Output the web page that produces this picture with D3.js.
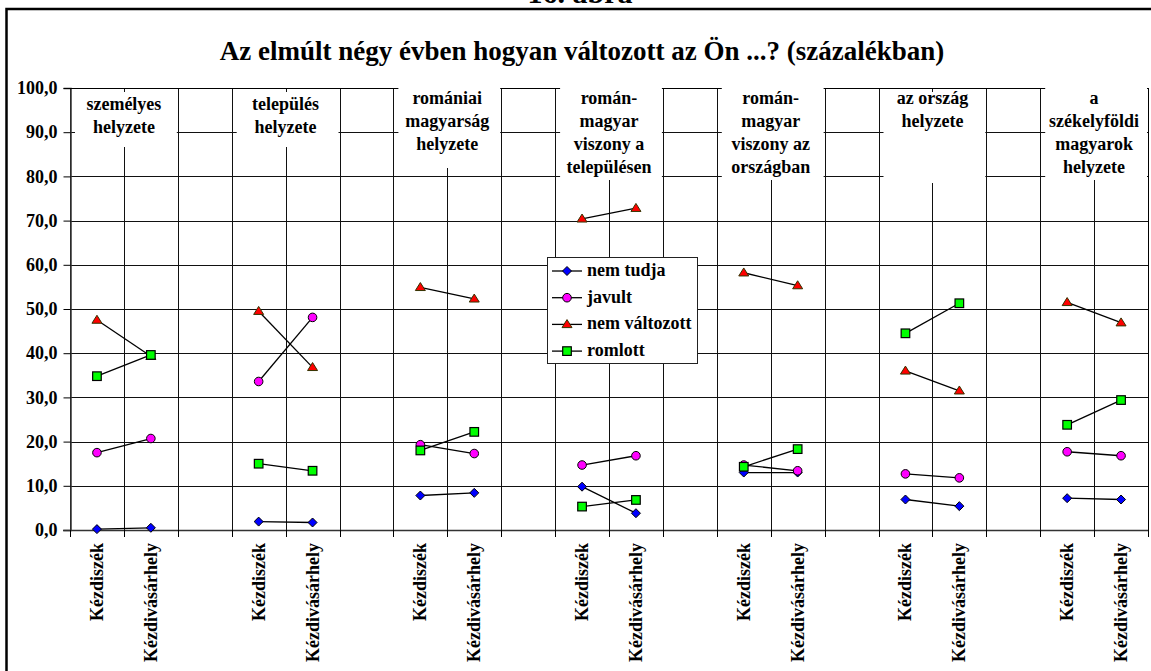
<!DOCTYPE html>
<html>
<head>
<meta charset="utf-8">
<script src="https://cdn.jsdelivr.net/npm/d3@7"></script>
<style>
  html, body { margin: 0; padding: 0; background: #fff; }
  svg { display: block; }
  text { font-family: "Liberation Serif", "Times New Roman", serif; font-weight: bold; fill: #000; }
</style>
</head>
<body>
<svg id="chart" width="1151" height="671"></svg>
<script>
// ---------- data ----------
const pageCaption = "16. ábra";
const title = "Az elmúlt négy évben hogyan változott az Ön ...? (százalékban)";
const groupLabels = [
  ["személyes", "helyzete"],
  ["település", "helyzete"],
  ["romániai", "magyarság", "helyzete"],
  ["román-", "magyar", "viszony a", "településen"],
  ["román-", "magyar", "viszony az", "országban"],
  ["az ország", "helyzete"],
  ["a", "székelyföldi", "magyarok", "helyzete"]
];
const sites = ["Kézdiszék", "Kézdivásárhely"];
const seriesNames = ["nem tudja", "javult", "nem változott", "romlott"];
// values per group: [Kézdiszék, Kézdivásárhely]
const nemTudja     = [0.2, 0.5,  1.9, 1.7,  7.8, 8.4,  9.8, 3.8,  13.0, 13.0,  6.9, 5.4,  7.2, 6.9];
const javult       = [17.5, 20.7, 33.6, 48.1, 19.3, 17.3, 14.7, 16.8, 14.7, 13.4, 12.7, 11.8, 17.7, 16.8];
const nemValtozott = [47.5, 39.3, 49.5, 36.8, 54.9, 52.3, 70.4, 72.8, 58.2, 55.3, 36.0, 31.5, 51.5, 46.9];
const romlott      = [34.8, 39.6, 15.0, 13.4, 18.0, 22.2, 5.3, 6.8, 14.3, 18.3, 44.5, 51.3, 23.8, 29.4];
const yTicks = [0, 10, 20, 30, 40, 50, 60, 70, 80, 90, 100];

// ---------- layout ----------
const plot = { left: 70, right: 1148, top: 88, bottom: 530 };
const slotsPerGroup = 3;
const nSlots = groupLabels.length * slotsPerGroup - 1; // 20
// label box [top, bottom, first baseline] per group
const boxLayout = [[92,147,110],[92,147,110],[85,168,104],[85,180,104],[85,180,104],[92,183,104],[85,180,104]];
const lineH = 23;

const svg = d3.select("#chart");
const x = d3.scaleLinear().domain([0, nSlots]).range([plot.left, plot.right]);
const y = d3.scaleLinear().domain([0, 100]).range([plot.bottom, plot.top]);

// caption (cut at top) and frame
svg.append("text").attr("x", 580).attr("y", 3).attr("text-anchor", "middle")
  .style("font-size", "30px").text(pageCaption);
svg.append("rect").attr("x", 6.5).attr("y", 9).attr("width", 1200).attr("height", 700)
  .attr("fill", "none").attr("stroke", "#000").attr("stroke-width", 2.5);

// title
svg.append("text").attr("x", 582).attr("y", 60).attr("text-anchor", "middle")
  .style("font-size", "27px").text(title);

// gridlines
const grid = svg.append("g").attr("stroke", "#111").attr("stroke-width", 1).attr("shape-rendering", "crispEdges");
grid.selectAll("line.h").data(yTicks).join("line")
  .attr("x1", plot.left).attr("x2", plot.right)
  .attr("y1", d => Math.round(y(d)) + 0.5).attr("y2", d => Math.round(y(d)) + 0.5);
grid.selectAll("line.v").data(d3.range(0, nSlots + 1)).join("line")
  .attr("y1", plot.top).attr("y2", plot.bottom)
  .attr("x1", d => Math.round(x(d)) + 0.5).attr("x2", d => Math.round(x(d)) + 0.5);

// y axis
const yAxis = d3.axisLeft(y).tickValues(yTicks).tickSize(7).tickPadding(6)
  .tickFormat(d => d3.format(".1f")(d).replace(".", ","));
const yg = svg.append("g").attr("transform", `translate(${plot.left + 0.5},0)`).call(yAxis);
yg.select(".domain").attr("stroke", "#333").attr("stroke-width", 1.5);
yg.selectAll(".tick line").attr("stroke", "#000");
yg.selectAll(".tick text").style("font-size", "18px").style("font-family", "Liberation Serif").style("font-weight", "bold");

// x axis: ticks at slot boundaries, labels at slot centers
const xg = svg.append("g");
xg.append("line").attr("x1", plot.left - 7).attr("x2", plot.right).attr("y1", plot.bottom + 0.5).attr("y2", plot.bottom + 0.5)
  .attr("stroke", "#333").attr("stroke-width", 1.5);
xg.selectAll("line.t").data(d3.range(0, nSlots + 1)).join("line")
  .attr("x1", d => Math.round(x(d)) + 0.5).attr("x2", d => Math.round(x(d)) + 0.5)
  .attr("y1", plot.bottom).attr("y2", plot.bottom + 7).attr("stroke", "#000");

const slotLabels = d3.range(nSlots).map(i => (i % slotsPerGroup < 2) ? sites[i % slotsPerGroup] : "");
xg.selectAll("text.xl").data(slotLabels.map((t, i) => ({ t, i })).filter(d => d.t)).join("text")
  .attr("transform", d => `translate(${x(d.i + 0.5) + 6},543) rotate(-90)`)
  .attr("text-anchor", "end").style("font-size", "18px").text(d => d.t);

// plot border top/right
svg.append("line").attr("x1", plot.left).attr("x2", plot.right + 0.5).attr("y1", plot.top + 0.5).attr("y2", plot.top + 0.5).attr("stroke", "#000");
svg.append("line").attr("x1", plot.right + 0.5).attr("x2", plot.right + 0.5).attr("y1", plot.top).attr("y2", plot.bottom).attr("stroke", "#000");

// group label boxes
groupLabels.forEach((lines, g) => {
  const [bt, bb, fb] = boxLayout[g];
  const x0 = x(g * slotsPerGroup), x1 = x(g * slotsPerGroup + 2);
  svg.append("rect").attr("x", x0 + 5).attr("y", bt).attr("width", x1 - x0 - 6).attr("height", bb - bt).attr("fill", "#fff");
  const t = svg.append("text").attr("text-anchor", "middle").style("font-size", "18px");
  lines.forEach((ln, k) => {
    t.append("tspan").attr("x", x(g * slotsPerGroup + 1)).attr("y", fb + k * lineH).text(ln);
  });
});

// series
const series = [
  { name: seriesNames[0], values: nemTudja, shape: "diamond", fill: "#0000ff", stroke: "#000" },
  { name: seriesNames[1], values: javult, shape: "circle", fill: "#ff00ff", stroke: "#000" },
  { name: seriesNames[2], values: nemValtozott, shape: "triangle", fill: "#ff0000", stroke: "#333300" },
  { name: seriesNames[3], values: romlott, shape: "square", fill: "#00ff00", stroke: "#000" }
];
function slotOf(idx) { return Math.floor(idx / 2) * slotsPerGroup + (idx % 2); }
function drawMarker(sel, s, cx, cy) {
  if (s.shape === "circle") {
    sel.append("circle").attr("cx", cx).attr("cy", cy).attr("r", 4.3)
      .attr("fill", s.fill).attr("stroke", s.stroke).attr("stroke-width", 1);
  } else if (s.shape === "square") {
    sel.append("rect").attr("x", cx - 4.3).attr("y", cy - 4.3).attr("width", 8.6).attr("height", 8.6)
      .attr("fill", s.fill).attr("stroke", s.stroke).attr("stroke-width", 1.2);
  } else if (s.shape === "diamond") {
    const r = 4.5;
    sel.append("path").attr("d", `M${cx},${cy - r}L${cx + r},${cy}L${cx},${cy + r}L${cx - r},${cy}Z`)
      .attr("fill", s.fill).attr("stroke", s.stroke).attr("stroke-width", 1);
  } else {
    const w = 5, h = 8;
    sel.append("path").attr("d", `M${cx},${cy - h * 0.6}L${cx + w},${cy + h * 0.4}L${cx - w},${cy + h * 0.4}Z`)
      .attr("fill", s.fill).attr("stroke", s.stroke).attr("stroke-width", 1);
  }
}
const line = d3.line().x(d => x(d.slot + 0.5)).y(d => y(d.v));
series.forEach(s => {
  const g = svg.append("g");
  const pts = s.values.map((v, i) => ({ v, slot: slotOf(i), group: Math.floor(i / 2) }));
  d3.groups(pts, d => d.group).forEach(([, gp]) => {
    g.append("path").attr("d", line(gp)).attr("fill", "none").attr("stroke", "#000").attr("stroke-width", 1.3);
  });
  pts.forEach(p => drawMarker(g, s, x(p.slot + 0.5), y(p.v)));
});

// legend
const lg = svg.append("g");
lg.append("rect").attr("x", 547.5).attr("y", 257.5).attr("width", 150).attr("height", 106)
  .attr("fill", "#fff").attr("stroke", "#222").attr("stroke-width", 1);
series.forEach((s, k) => {
  const cy = 271 + k * 26.7;
  lg.append("line").attr("x1", 552).attr("x2", 582).attr("y1", cy).attr("y2", cy).attr("stroke", "#000").attr("stroke-width", 1.3);
  drawMarker(lg, s, 567, cy);
  lg.append("text").attr("x", 587).attr("y", cy + 5).style("font-size", "18px").text(s.name);
});
</script>
</body>
</html>
